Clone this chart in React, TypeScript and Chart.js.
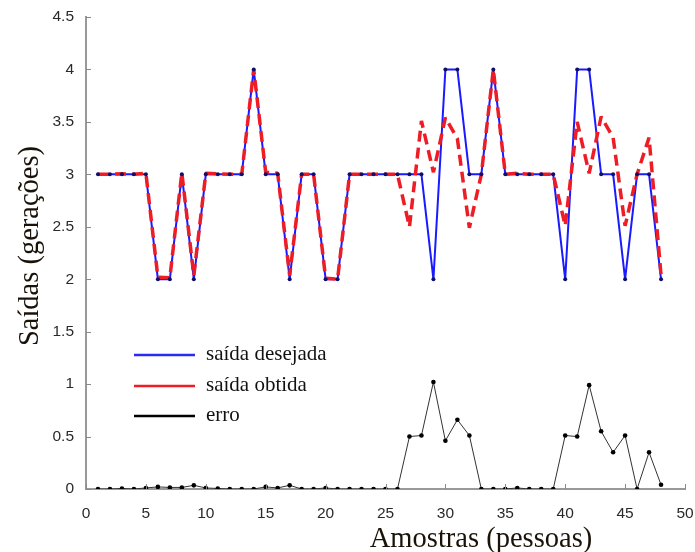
import React, { useEffect, useRef } from "react";
import { Chart, registerables } from "chart.js";

Chart.register(...registerables);

const samples = Array.from({ length: 48 }, (_, i) => i + 1);

const desired = [
  3, 3, 3, 3, 3, 2, 2, 3, 2, 3,
  3, 3, 3, 4, 3, 3, 2, 3, 3, 2,
  2, 3, 3, 3, 3, 3, 3, 3, 2, 4,
  4, 3, 3, 4, 3, 3, 3, 3, 3, 2,
  4, 4, 3, 3, 2, 3, 3, 2,
];

const obtained = [
  3, 3, 3.005, 3, 3.01, 2.02, 2.015, 3.015, 2.035, 3.01,
  3.005, 3, 3, 4, 3.02, 3.01, 2.035, 3, 3, 2.01,
  2, 3, 3, 3, 3, 3, 2.5, 3.51, 3.02, 3.54,
  3.34, 2.49, 3, 4, 3, 3.01, 3, 3, 3, 2.51,
  3.5, 3.01, 3.55, 3.35, 2.51, 3, 3.35, 2.04,
];

const errorVals = [
  0, 0, 0.005, 0, 0.01, 0.02, 0.015, 0.015, 0.035, 0.01,
  0.005, 0, 0, 0, 0.02, 0.01, 0.035, 0, 0, 0.01,
  0, 0, 0, 0, 0, 0, 0.5, 0.51, 1.02, 0.46,
  0.66, 0.51, 0, 0, 0, 0.01, 0, 0, 0, 0.51,
  0.5, 0.99, 0.55, 0.35, 0.51, 0, 0.35, 0.04,
];

const legendLabels = ["saída desejada", "saída obtida", "erro"];
const legendColors = ["#2b2bef", "#ee1c25", "#000000"];
const xTitle = "Amostras (pessoas)";
const yTitle = "Saídas (gerações)";

const pts = (ys: number[]) => samples.map((x, i) => ({ x, y: ys[i] }));

const overlayPlugin = {
  id: "overlay",
  afterDraw(chart: any) {
    const ctx = chart.ctx;
    const xs = chart.scales.x;
    const ys = chart.scales.y;
    const area = chart.chartArea;
    ctx.save();
    // inward tick marks
    ctx.strokeStyle = "#8a8a8a";
    ctx.lineWidth = 1;
    ys.ticks.forEach((t: any) => {
      const py = Math.round(ys.getPixelForValue(t.value)) + 0.5;
      ctx.beginPath();
      ctx.moveTo(area.left, py);
      ctx.lineTo(area.left + 5, py);
      ctx.stroke();
    });
    xs.ticks.forEach((t: any) => {
      const px = Math.round(xs.getPixelForValue(t.value)) + 0.5;
      ctx.beginPath();
      ctx.moveTo(px, area.bottom);
      ctx.lineTo(px, area.bottom - 5);
      ctx.stroke();
    });
    // legend
    ctx.font = '21px "Liberation Serif", "Times New Roman", serif';
    ctx.textBaseline = "middle";
    ctx.textAlign = "left";
    const ly = [355, 386, 416];
    legendLabels.forEach((lab, i) => {
      ctx.strokeStyle = legendColors[i];
      ctx.lineWidth = 2.5;
      ctx.beginPath();
      ctx.moveTo(134, ly[i]);
      ctx.lineTo(195, ly[i]);
      ctx.stroke();
      ctx.fillStyle = "#111";
      ctx.fillText(lab, 206, ly[i] - 1);
    });
    // axis titles
    ctx.font = '28.5px "Liberation Serif", "Times New Roman", serif';
    ctx.fillStyle = "#1a1208";
    ctx.textAlign = "center";
    ctx.fillText(xTitle, 481, 540);
    ctx.translate(31, 246);
    ctx.rotate(-Math.PI / 2);
    ctx.fillText(yTitle, 0, 0);
    ctx.restore();
  },
};

export default function App() {
  const ref = useRef<HTMLCanvasElement | null>(null);
  useEffect(() => {
    if (!ref.current) return;
    const tickFont = { family: '"Liberation Sans", Arial, sans-serif', size: 15.5 };
    const chart = new Chart(ref.current, {
      type: "line",
      data: {
        datasets: [
          {
            label: "markers",
            data: pts(desired),
            showLine: false,
            pointRadius: 2,
            pointBackgroundColor: "#10106a",
            pointBorderColor: "#10106a",
            pointBorderWidth: 0,
            order: 0,
          },
          {
            label: legendLabels[1],
            data: pts(obtained),
            borderColor: "#ee1c25",
            borderWidth: 3.5,
            borderDash: [11, 6],
            borderJoinStyle: "bevel",
            pointRadius: 0,
            tension: 0,
            order: 1,
          },
          {
            label: legendLabels[0],
            data: pts(desired),
            borderColor: "#1a1aff",
            borderWidth: 2,
            borderJoinStyle: "bevel",
            pointRadius: 0,
            tension: 0,
            order: 2,
          },
          {
            label: legendLabels[2],
            data: pts(errorVals),
            borderColor: "#333",
            borderWidth: 1,
            pointRadius: 2.3,
            pointBackgroundColor: "#000",
            pointBorderColor: "#000",
            pointBorderWidth: 0,
            tension: 0,
            order: 3,
          },
        ],
      },
      options: {
        animation: false,
        responsive: true,
        maintainAspectRatio: false,
        layout: { padding: { top: 17, right: 10, left: 0, bottom: 0 } },
        plugins: { legend: { display: false }, tooltip: { enabled: false } },
        scales: {
          x: {
            type: "linear",
            min: 0,
            max: 50,
            ticks: { stepSize: 5, color: "#2a2a2a", font: tickFont, padding: 7, maxRotation: 0 },
            grid: { display: false },
            border: { display: true, color: "#999", width: 2 },
            afterFit: (s: any) => { s.height = 63; s.paddingLeft = 0; s.paddingRight = 0; },
          },
          y: {
            min: 0,
            max: 4.5,
            ticks: { stepSize: 0.5, color: "#2a2a2a", font: tickFont, padding: 4, callback: (v: any) => String(v) },
            grid: { display: false },
            border: { display: true, color: "#999", width: 2 },
            afterFit: (s: any) => { s.width = 86; s.paddingTop = 0; s.paddingBottom = 0; },
          },
        },
      },
      plugins: [overlayPlugin],
    });
    return () => chart.destroy();
  }, []);
  return (
    <div style={{ position: "absolute", left: 0, top: 0, width: 695, height: 552, background: "#fff" }}>
      <canvas ref={ref} />
    </div>
  );
}
